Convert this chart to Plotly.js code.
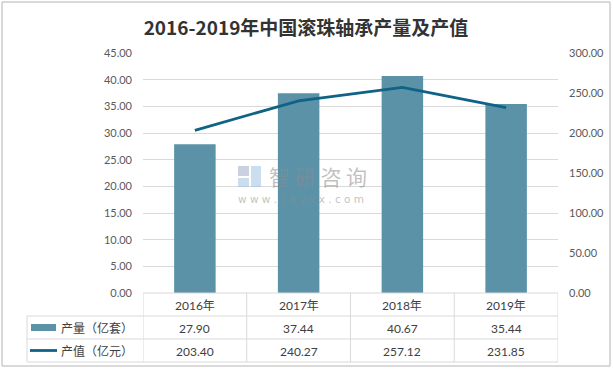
<!DOCTYPE html>
<html><head><meta charset="utf-8">
<script src="https://cdn.plot.ly/plotly-3.0.1.min.js"></script>
<style>body{margin:0}#c{width:613px;height:370px}</style>
</head><body><div id="c"></div>
<script>
const categories = ['2016年','2017年','2018年','2019年'];
const output = [27.90, 37.44, 40.67, 35.44];
const value = [203.40, 240.27, 257.12, 231.85];
const seriesNames = ['产量（亿套）','产值（亿元）'];
const leftTicks = [0,5,10,15,20,25,30,35,40,45];
const rightTicks = [0,50,100,150,200,250,300];

const barColor = '#5b92a8';
const lineColor = '#0f6386';
const gridColor = '#d9d9d9';
const txt = '#404040';
const FONT = 'Lato, "Noto Sans CJK SC", sans-serif';

const W=613,H=370,L=143,R=55,T=53,B=77;
const pw=W-L-R, ph=H-T-B;
const px = x => (x-L)/pw;
const py = y => (H-B-y)/ph;

const idx = categories.map((_,i)=>i);
const traces = [
  {type:'bar', x: idx, y: output, marker:{color:barColor}, width:0.4, name:seriesNames[0], hoverinfo:'skip'},
  {type:'scatter', mode:'lines', x: idx, y: value, yaxis:'y2', line:{color:lineColor,width:2.8}, name:seriesNames[1], hoverinfo:'skip'}
];

const shapes = [];
const ann = [];
shapes.push({type:'rect', xref:'paper', yref:'paper', x0:px(2), x1:px(610), y0:py(366), y1:py(2), line:{color:'#b4b4b4',width:1}});
shapes.push({type:'line', xref:'x', yref:'paper', x0:-0.5, x1:categories.length-0.5, y0:0, y1:0, line:{color:gridColor,width:1}});
const rowYs=[316,339,362];
rowYs.forEach(y=>{
  shapes.push({type:'line', xref:'paper', yref:'paper', x0:px(27), x1:1, y0:py(y), y1:py(y), line:{color:gridColor,width:1}});
});
for(let i=0;i<=categories.length;i++){
  shapes.push({type:'line', xref:'x', yref:'paper', x0:i-0.5, x1:i-0.5, y0:0, y1:py(362), line:{color:gridColor,width:1}});
}
shapes.push({type:'line', xref:'paper', yref:'paper', x0:px(27), x1:px(27), y0:py(316), y1:py(362), line:{color:gridColor,width:1}});
shapes.push({type:'rect', xref:'paper', yref:'paper', x0:px(31), x1:px(56), y0:py(331), y1:py(324), fillcolor:barColor, line:{width:0}});
shapes.push({type:'line', xref:'paper', yref:'paper', x0:px(30), x1:px(57), y0:py(350.5), y1:py(350.5), line:{color:lineColor,width:2.8}});

const f = {family:FONT, size:12, color:txt};
const A = (o)=>Object.assign({showarrow:false, xanchor:'center', yanchor:'middle'}, o);
categories.forEach((c,i)=>{
  ann.push(A({xref:'x', yref:'paper', x:i, y:py(305), text:c, font:f}));
  ann.push(A({xref:'x', yref:'paper', x:i, y:py(328), text:output[i].toFixed(2), font:f}));
  ann.push(A({xref:'x', yref:'paper', x:i, y:py(351), text:value[i].toFixed(2), font:f}));
});
ann.push(A({xref:'paper', yref:'paper', x:px(59), y:py(328), xanchor:'left', text:seriesNames[0], font:f}));
ann.push(A({xref:'paper', yref:'paper', x:px(59), y:py(351), xanchor:'left', text:seriesNames[1], font:f}));
// watermark
const wmColor = 'rgba(140,140,140,0.55)';
ann.push(A({xref:'paper', yref:'paper', x:px(268), y:py(176), xanchor:'left', text:'智 研 咨 询', borderpad:0, font:{family:'"Noto Sans CJK SC"', size:21, color:wmColor}}));
ann.push(A({xref:'paper', yref:'paper', x:px(237), y:py(198.5), xanchor:'left', text:'w w w . c h y x x . c o m', borderpad:0, font:{family:'"DejaVu Sans", sans-serif', size:10.5, color:wmColor}}));
shapes.push({type:'rect', xref:'paper', yref:'paper', x0:px(238), x1:px(249), y0:py(176), y1:py(166), fillcolor:'rgba(150,165,195,0.5)', line:{width:0}});
shapes.push({type:'rect', xref:'paper', yref:'paper', x0:px(251), x1:px(261), y0:py(187), y1:py(166), fillcolor:'rgba(150,190,225,0.5)', line:{width:0}});
shapes.push({type:'rect', xref:'paper', yref:'paper', x0:px(238), x1:px(249), y0:py(187), y1:py(178), fillcolor:'rgba(150,190,225,0.5)', line:{width:0}});

const layout = {
  width:W, height:H, margin:{l:L, r:R, t:T, b:B},
  paper_bgcolor:'#fff', plot_bgcolor:'#fff', showlegend:false,
  title:{text:'<b>2016-2019年中国滚珠轴承产量及产值</b>', x:306/W, xref:'container', xanchor:'center', y:1-28.5/H, yref:'container', yanchor:'middle', font:{family:'"Noto Sans CJK SC", sans-serif', size:19, color:'#333'}},
  xaxis:{range:[-0.5,categories.length-0.5], showticklabels:false, showgrid:false, zeroline:false, showline:false, ticks:'', fixedrange:true},
  yaxis:{range:[0,45], tickvals:leftTicks, ticktext:leftTicks.map(v=>v.toFixed(2)), showgrid:true, gridcolor:gridColor, gridwidth:1, zeroline:false, showline:false, ticks:'', ticklabelstandoff:10, tickfont:{family:FONT,size:11,color:'#595959'}},
  yaxis2:{range:[0,300], overlaying:'y', side:'right', tickvals:rightTicks, ticktext:rightTicks.map(v=>v.toFixed(2)), showgrid:false, zeroline:false, showline:false, ticks:'', ticklabelstandoff:10, tickfont:{family:FONT,size:11,color:'#595959'}},
  shapes:shapes, annotations:ann
};
Plotly.newPlot('c', traces, layout, {staticPlot:true, displayModeBar:false});
</script>
</body></html>
